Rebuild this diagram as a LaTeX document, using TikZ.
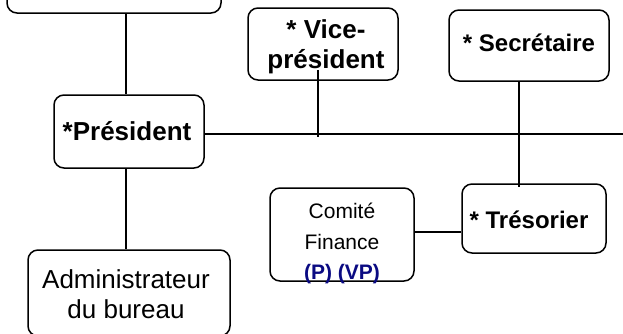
\documentclass[tikz,border=0pt]{standalone}
\usepackage{fontspec}
\setmainfont{Liberation Sans}
\definecolor{navyblue}{RGB}{10,10,130}
\tikzset{
  box/.style={draw=black, line width=1.5pt, rounded corners=10pt, inner sep=0pt, align=center},
  conn/.style={draw=black, line width=1.2pt},
  txt/.style={inner sep=0pt, align=center},
  bigtxt/.style={font=\fontsize{26}{30}\selectfont},
  bigbold/.style={font=\fontsize{26}{30}\selectfont\bfseries},
  midbold/.style={font=\fontsize{24}{28}\selectfont\bfseries},
  smalltxt/.style={font=\fontsize{21}{30.5}\selectfont}
}
\begin{document}
\begin{tikzpicture}[x=1pt,y=-1pt]
\useasboundingbox (0,0) rectangle (623,333);
% boxes
\node[box, minimum width=214pt, minimum height=53pt] (top) at (114,-13.5) {};
\node[box, minimum width=150pt, minimum height=73pt] (pres) at (129,131.5) {};
\node[txt, bigbold] (prestxt) at (127,131) {*Président};
\node[box, minimum width=150pt, minimum height=72pt] (vice) at (323,44) {};
\node[txt, bigbold] (vicetxt) at (326,47) {* Vice-\\président};
\node[box, minimum width=160pt, minimum height=71pt] (secr) at (529,45.5) {};
\node[txt, midbold] (secrtxt) at (529,42.5) {* Secrétaire};
\node[box, minimum width=144pt, minimum height=69pt] (tres) at (534,218.5) {};
\node[txt, midbold] (trestxt) at (529,220) {* Trésorier};
\node[box, minimum width=144pt, minimum height=93pt] (com) at (342,234.5) {};
\node[txt, smalltxt] (comtxt) at (342,243.5) {Comité\\Finance\\{\bfseries\color{navyblue}(P) (VP)}};
\node[box, minimum width=202pt, minimum height=86pt] (admin) at (129,293) {};
\node[txt, bigtxt] (admintxt) at (126,294) {Administrateur\\du bureau};
% helper coordinates
\coordinate (xl) at (126,0);
\coordinate (rend) at (623,134);
\coordinate (vx) at (318,137);
\coordinate (sx) at (519,0);
\coordinate (cy) at (0,232);
% connectors
\draw[conn] (top.south -| xl) -- (pres.north -| xl);
\draw[conn] (pres.south -| xl) -- (admin.north -| xl);
\draw[conn] (pres.east |- rend) -- (rend);
\draw[conn] ([yshift=11pt]vice.south -| vx) -- (vx);
\draw[conn] (secr.south -| sx) -- ([yshift=-4pt]tres.north -| sx);
\draw[conn] (com.east |- cy) -- (tres.west |- cy);
\end{tikzpicture}
\end{document}
